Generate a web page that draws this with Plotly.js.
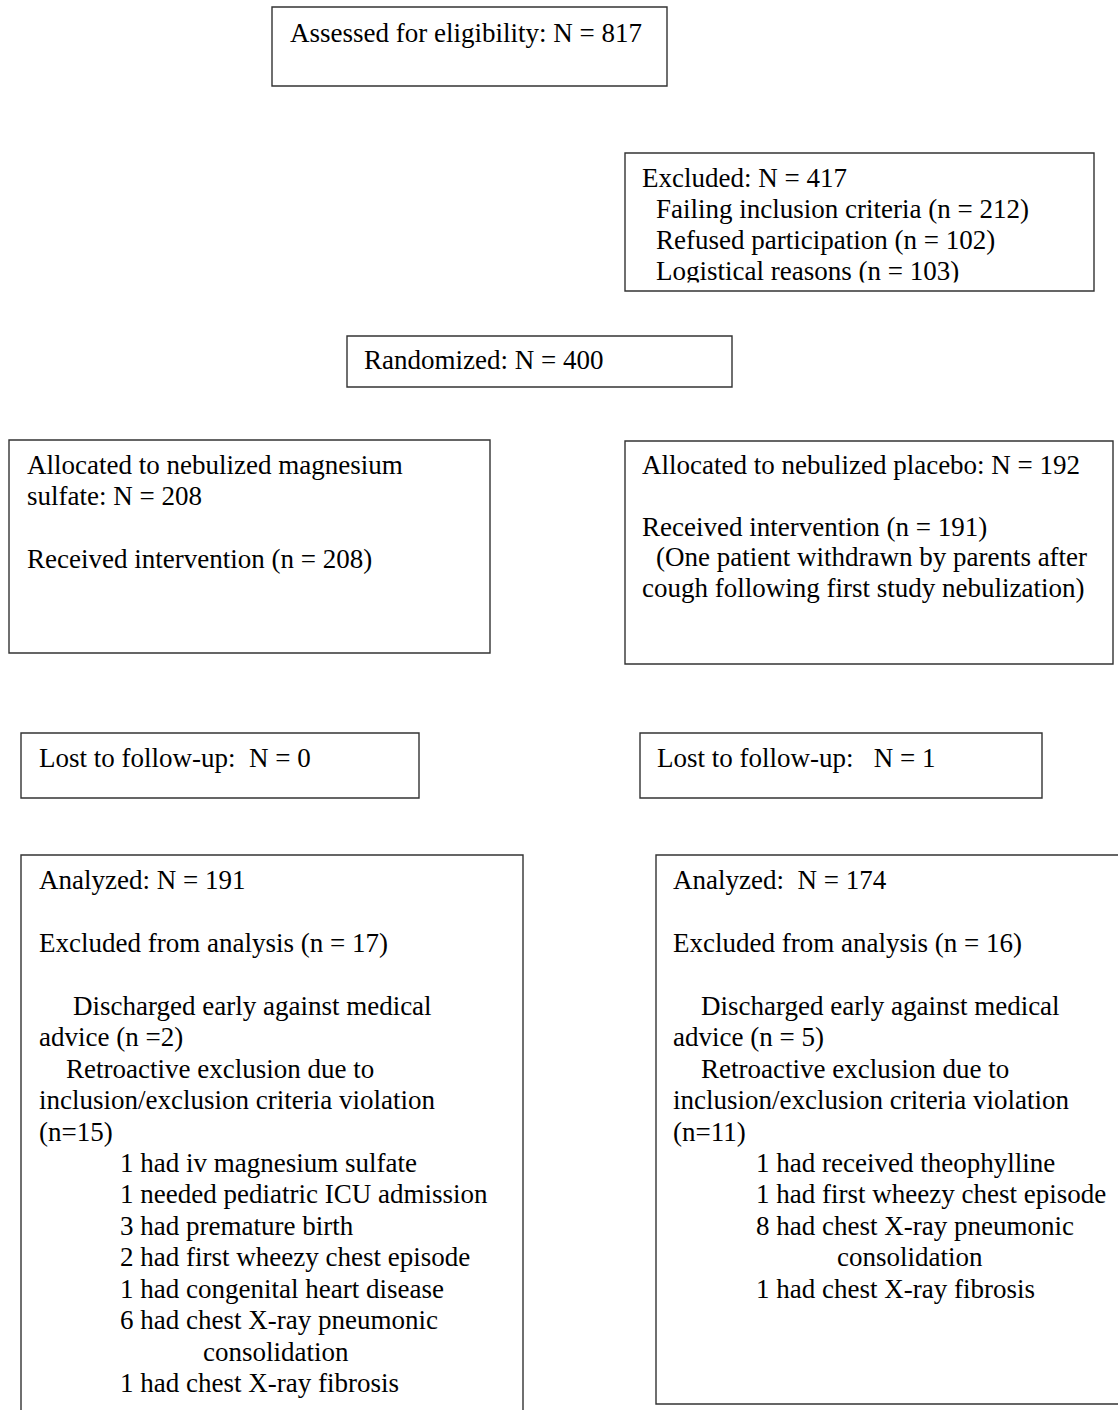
<!DOCTYPE html>
<html>
<head>
<meta charset="utf-8">
<script src="https://cdn.plot.ly/plotly-3.0.1.min.js"></script>
<style>html,body{margin:0;padding:0;background:#fff;}#chart{width:1118px;height:1410px;}</style>
</head>
<body>
<div id="chart"></div>
<script>
// ---- Text content of the flow diagram ----
const assessedLines = ["Assessed for eligibility: N = 817"];
const excludedLines = [
  "Excluded: N = 417",
  "Failing inclusion criteria (n = 212)",
  "Refused participation (n = 102)",
  "Logistical reasons (n = 103)"
];
const randomizedLines = ["Randomized: N = 400"];
const magnesiumLines = [
  "Allocated to nebulized magnesium",
  "sulfate: N = 208",
  "",
  "Received intervention (n = 208)"
];
const placeboLines = [
  "Allocated to nebulized placebo: N = 192",
  "",
  "Received intervention (n = 191)",
  "(One patient withdrawn by parents after",
  "cough following first study nebulization)"
];
const lostMagnesiumLines = ["Lost to follow-up:\u00a0 N = 0"];
const lostPlaceboLines = ["Lost to follow-up:\u00a0\u00a0 N = 1"];
const analyzedMagnesiumLines = [
  "Analyzed: N = 191",
  "",
  "Excluded from analysis (n = 17)",
  "",
  "Discharged early against medical",
  "advice (n =2)",
  "Retroactive exclusion due to",
  "inclusion/exclusion criteria violation",
  "(n=15)",
  "1 had iv magnesium sulfate",
  "1 needed pediatric ICU admission",
  "3 had premature birth",
  "2 had first wheezy chest episode",
  "1 had congenital heart disease",
  "6 had chest X-ray pneumonic",
  "consolidation",
  "1 had chest X-ray fibrosis"
];
const analyzedPlaceboLines = [
  "Analyzed:\u00a0 N = 174",
  "",
  "Excluded from analysis (n = 16)",
  "",
  "Discharged early against medical",
  "advice (n = 5)",
  "Retroactive exclusion due to",
  "inclusion/exclusion criteria violation",
  "(n=11)",
  "1 had received theophylline",
  "1 had first wheezy chest episode",
  "8 had chest X-ray pneumonic",
  "consolidation",
  "1 had chest X-ray fibrosis"
];

// ---- Geometry (pixel layout) ----
const W = 1118, H = 1410;
const FONT = {family: '"Liberation Serif", "Times New Roman", serif', size: 27, color: '#000'};
const boxes = [
  {lines: assessedLines, rect: [272, 7, 667, 86], y0: 33, step: 31, x: [290]},
  {lines: excludedLines, rect: [625, 153, 1094, 291], y0: 178, step: 31, x: [642, 656, 656, 656]},
  {lines: randomizedLines, rect: [347, 336, 732, 387], y0: 360, step: 31, x: [364]},
  {lines: magnesiumLines, rect: [9, 440, 490, 653], y0: 465, step: 31.3, x: [27, 27, 27, 27]},
  {lines: placeboLines, rect: [625, 441, 1113, 664], y0: 465, step: 30.8, x: [642, 642, 642, 656, 642]},
  {lines: lostMagnesiumLines, rect: [21, 733, 419, 798], y0: 758, step: 31, x: [39]},
  {lines: lostPlaceboLines, rect: [640, 733, 1042, 798], y0: 758, step: 31, x: [657]},
  {lines: analyzedMagnesiumLines, rect: [21, 855, 523, 1420], y0: 880, step: 31.44,
   x: [39, 39, 39, 39, 73, 39, 66, 39, 39, 120, 120, 120, 120, 120, 120, 203, 120]},
  {lines: analyzedPlaceboLines, rect: [656, 855, 1130, 1404], y0: 880, step: 31.44,
   x: [673, 673, 673, 673, 701, 673, 701, 673, 673, 756, 756, 756, 837, 756]}
];

const shapes = [];
const annotations = [];
boxes.forEach(b => {
  b.lines.forEach((t, i) => {
    if (!t) return;
    annotations.push({
      xref: 'x', yref: 'y', x: b.x[i] - 2, y: b.y0 + i * b.step,
      text: t, showarrow: false, xanchor: 'left', yanchor: 'middle', align: 'left',
      font: FONT
    });
  });
});

// the last line of the "Excluded" box is clipped at its bottom in the original
annotations.push({
  xref: 'x', yref: 'y', x: 648, y: 282, xanchor: 'left', yanchor: 'top',
  text: ' ', showarrow: false, width: 380, height: 5, bgcolor: '#ffffff', borderpad: 0,
  font: {size: 4}
});

boxes.forEach(b => {
  shapes.push({
    type: 'rect', xref: 'x', yref: 'y',
    x0: b.rect[0], y0: b.rect[1], x1: b.rect[2], y1: b.rect[3],
    line: {color: '#333333', width: 1.4}, fillcolor: 'rgba(0,0,0,0)', layer: 'above'
  });
});

const layout = {
  width: W, height: H,
  margin: {l: 0, r: 0, t: 0, b: 0},
  paper_bgcolor: '#fff', plot_bgcolor: '#fff',
  showlegend: false,
  xaxis: {range: [0, W], visible: false, fixedrange: true},
  yaxis: {range: [H, 0], visible: false, fixedrange: true},
  shapes: shapes,
  annotations: annotations
};

Plotly.newPlot('chart', [], layout, {staticPlot: true, displayModeBar: false});
</script>
</body>
</html>
